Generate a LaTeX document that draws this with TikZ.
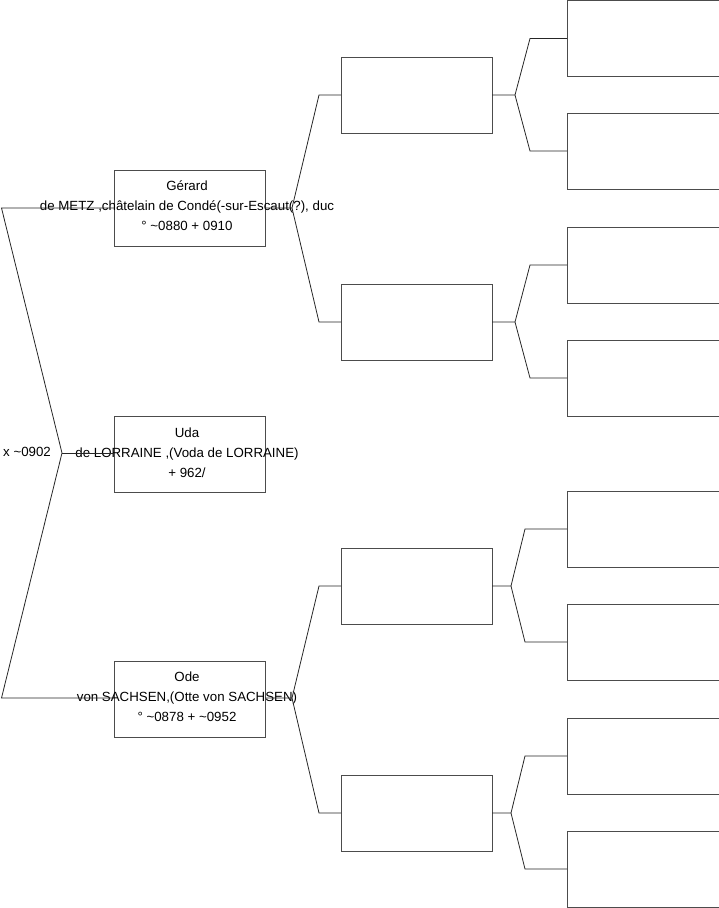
\documentclass[tikz,border=0pt]{standalone}
\usepackage{fontspec}
\setmainfont{Liberation Sans}
\begin{document}
\begin{tikzpicture}[x=1pt,y=-1pt,
  box/.style={draw=black!70, line width=1pt, minimum width=151pt, minimum height=76pt, inner sep=0pt, outer sep=0pt},
  conn/.style={draw=black!85, line width=0.8pt},
  txt/.style={font=\fontsize{13.3}{20}\selectfont, align=center, inner sep=0pt}]
\useasboundingbox (0,0) rectangle (719,908);
% level 1
\node[box] (g) at (189.5,208) {};
\node[box] (u) at (189.5,454) {};
\node[box] (o) at (189.5,699) {};
% level 2
\node[box] (b1) at (416.5,95) {};
\node[box] (b2) at (416.5,322) {};
\node[box] (b3) at (416.5,586) {};
\node[box] (b4) at (416.5,813) {};
% level 3
\node[box, minimum width=152pt] (c1) at (643,38.5) {};
\node[box, minimum width=152pt] (c2) at (643,151) {};
\node[box, minimum width=152pt] (c3) at (643,265) {};
\node[box, minimum width=152pt] (c4) at (643,378) {};
\node[box, minimum width=152pt] (c5) at (643,529) {};
\node[box, minimum width=152pt] (c6) at (643,642) {};
\node[box, minimum width=152pt] (c7) at (643,756) {};
\node[box, minimum width=152pt] (c8) at (643,869) {};
% texts
\node[txt] (tg) at (187,206) {Gérard\\de METZ ,châtelain de Condé(-sur-Escaut(?), duc\\° \char`\~0880 + 0910};
\node[txt] (tu) at (187,453) {Uda\\de LORRAINE ,(Voda de LORRAINE)\\+ 962/};
\node[txt] (to) at (187,697) {Ode\\von SACHSEN,(Otte von SACHSEN)\\° \char`\~0878 + \char`\~0952};
\node[txt, anchor=west] (tx) at (3,452) {x \char`\~0902};
% coordinates
\coordinate (a1) at (1.5,208);
\coordinate (a2) at (1.5,698);
\coordinate (av) at (62,453);
\coordinate (gv) at (292,208);
\coordinate (g1) at (319,95);
\coordinate (g2) at (319,322);
\coordinate (ov) at (292,698);
\coordinate (o1) at (319,586);
\coordinate (o2) at (319,813);
\coordinate (v1) at (515,95);
\coordinate (v1a) at (530,38.5);
\coordinate (v1b) at (530,151);
\coordinate (v2) at (515,322);
\coordinate (v2a) at (530,265);
\coordinate (v2b) at (530,378);
\coordinate (v3) at (511,586);
\coordinate (v3a) at (525,529);
\coordinate (v3b) at (525,642);
\coordinate (v4) at (511,813);
\coordinate (v4a) at (525,756);
\coordinate (v4b) at (525,869);
% connectors
\draw[conn] (g.west) -- (a1) -- (av) -- (a2) -- (o.west |- a2);
\draw[conn] (av) -- (u.west |- av);
\draw[conn] (g.east) -- (gv) -- (g1) -- (b1.west);
\draw[conn] (gv) -- (g2) -- (b2.west);
\draw[conn] (o.east |- ov) -- (ov) -- (o1) -- (b3.west);
\draw[conn] (ov) -- (o2) -- (b4.west);
\draw[conn] (b1.east) -- (v1) -- (v1a) -- (c1.west);
\draw[conn] (v1) -- (v1b) -- (c2.west);
\draw[conn] (b2.east) -- (v2) -- (v2a) -- (c3.west);
\draw[conn] (v2) -- (v2b) -- (c4.west);
\draw[conn] (b3.east) -- (v3) -- (v3a) -- (c5.west);
\draw[conn] (v3) -- (v3b) -- (c6.west);
\draw[conn] (b4.east) -- (v4) -- (v4a) -- (c7.west);
\draw[conn] (v4) -- (v4b) -- (c8.west);
\end{tikzpicture}
\end{document}
